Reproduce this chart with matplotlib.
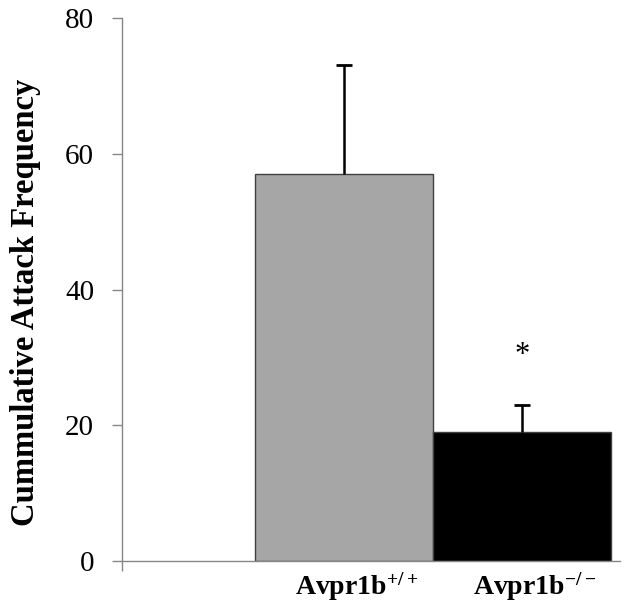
import numpy as np
import matplotlib.pyplot as plt

# Data
groups = [r'$\mathbf{Avpr1b^{+/+}}$', r'$\mathbf{Avpr1b^{-/-}}$']
means = [57, 19]
errors = [16.1, 4.0]
colors = ['#a6a6a6', '#000000']
sig_marks = ['', '*']

plt.rcParams['font.family'] = ['Liberation Serif', 'DejaVu Serif']
plt.rcParams['mathtext.fontset'] = 'custom'
plt.rcParams['mathtext.rm'] = 'Liberation Serif'
plt.rcParams['mathtext.bf'] = 'Liberation Serif:bold'

fig = plt.figure(figsize=(6.29, 6.02), dpi=100)
ax = fig.add_axes([0.194, 0.068, 0.792, 0.902])

x = np.arange(1, len(means) + 1)
means = np.array(means)
errors = np.array(errors)
ax.bar(x, means, width=1.0, color=colors, edgecolor='#404040', linewidth=1.0)
# upper-only error bars
ax.vlines(x, means, means + errors, color='black', linewidth=1.8)
ax.hlines(means + errors, x - 0.045, x + 0.045, color='black', linewidth=2.0)

for xi, m, e, s in zip(x, means, errors, sig_marks):
    if s:
        ax.text(xi, m + e + 7.3, s, ha='center', va='center', fontsize=22)

ax.set_xlim(-0.247, 2.55)
ax.set_ylim(0, 80)
ax.set_yticks([0, 20, 40, 60, 80])
ax.tick_params(axis='y', labelsize=21, length=7, color='#868686', width=1.0, pad=13)

ax.set_xticks([-0.247])
ax.set_xticklabels([''])
ax.tick_params(axis='x', length=7, color='#868686', width=1.0)
for xi, g in zip(x, groups):
    ax.text(xi + 0.07, -1.4, g, ha='center', va='top', fontsize=20)

for side in ['top', 'right']:
    ax.spines[side].set_visible(False)
for side in ['left', 'bottom']:
    ax.spines[side].set_color('#868686')
    ax.spines[side].set_linewidth(1.0)

ax.set_ylabel('Cummulative Attack Frequency', fontsize=23.5, fontweight='bold')
ax.yaxis.set_label_coords(-0.163, 0.477)

plt.savefig('out.png', dpi=100)
